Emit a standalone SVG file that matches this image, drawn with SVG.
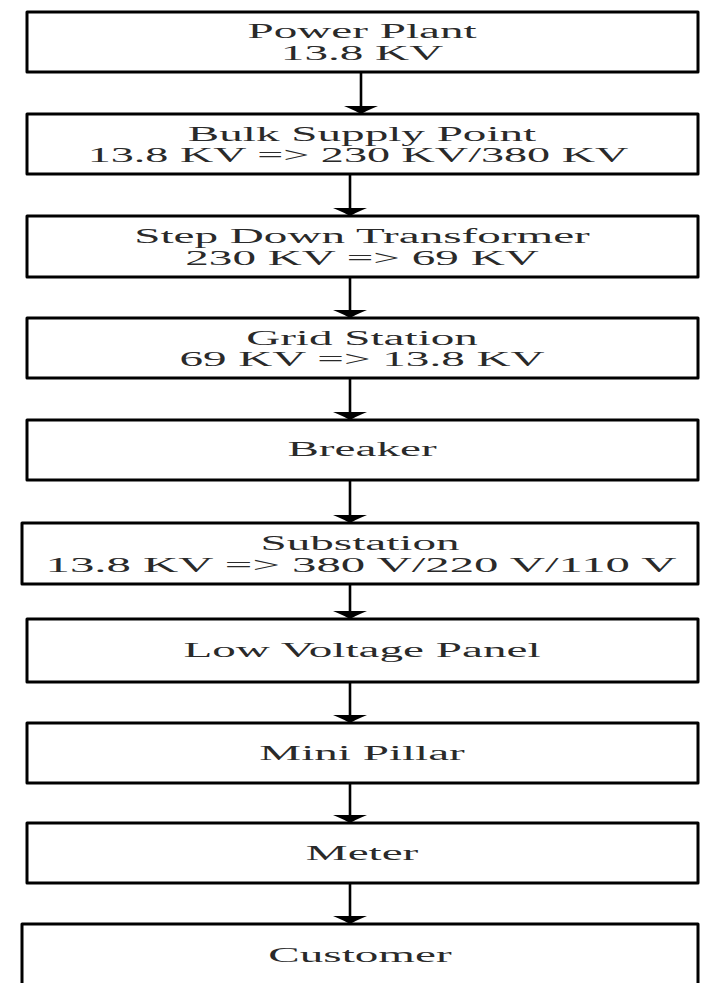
<svg xmlns="http://www.w3.org/2000/svg" width="702" height="983" viewBox="0 0 702 983">
<style>
.box{fill:#fff;stroke:#000;stroke-width:3;stroke-linejoin:round}
.t{font-family:"Liberation Serif","Times New Roman",serif;font-size:20.5px;fill:#2a2a2a;text-anchor:middle}
.c{stroke:#000;stroke-width:2.6;fill:none}
</style>
<defs>
<marker id="ah" markerUnits="userSpaceOnUse" markerWidth="12" markerHeight="40" viewBox="0 -20 12 40" refX="8" refY="0" orient="auto">
<path d="M0,-17 Q5,-5 8,0 Q5,5 0,17 Z" fill="#000"/>
</marker>
</defs>
<rect width="702" height="983" fill="#fff"/>
<g id="connectors">
<line class="c" x1="361" y1="72" x2="361" y2="114" marker-end="url(#ah)"/>
<line class="c" x1="350" y1="174" x2="350" y2="216" marker-end="url(#ah)"/>
<line class="c" x1="350" y1="277" x2="350" y2="318" marker-end="url(#ah)"/>
<line class="c" x1="350" y1="378" x2="350" y2="420" marker-end="url(#ah)"/>
<line class="c" x1="350" y1="480" x2="350" y2="523" marker-end="url(#ah)"/>
<line class="c" x1="350" y1="584" x2="350" y2="619" marker-end="url(#ah)"/>
<line class="c" x1="350" y1="682" x2="350" y2="723" marker-end="url(#ah)"/>
<line class="c" x1="350" y1="783" x2="350" y2="823" marker-end="url(#ah)"/>
<line class="c" x1="350" y1="883" x2="350" y2="924" marker-end="url(#ah)"/>
</g>
<g id="power-plant">
<rect class="box" x="27" y="12" width="671" height="60"/>
<text class="t" transform="matrix(2.3 0 0 1 362 38)">Power Plant</text>
<text class="t" transform="matrix(2.3 0 0 1 362 60)">13.8 KV</text>
</g>
<g id="bulk-supply-point">
<rect class="box" x="27" y="114" width="671" height="60"/>
<text class="t" transform="matrix(2.3 0 0 1 362 141)">Bulk Supply Point</text>
<text class="t" transform="matrix(2.25 0 0 1 358 162)">13.8 KV =&gt; 230 KV/380 KV</text>
</g>
<g id="step-down-transformer">
<rect class="box" x="27" y="216" width="671" height="61"/>
<text class="t" transform="matrix(2.3 0 0 1 362 243)">Step Down Transformer</text>
<text class="t" transform="matrix(2.3 0 0 1 362 265)">230 KV =&gt; 69 KV</text>
</g>
<g id="grid-station">
<rect class="box" x="27" y="318" width="671" height="60"/>
<text class="t" transform="matrix(2.3 0 0 1 362 345)">Grid Station</text>
<text class="t" transform="matrix(2.3 0 0 1 362 366)">69 KV =&gt; 13.8 KV</text>
</g>
<g id="breaker">
<rect class="box" x="27" y="420" width="671" height="60"/>
<text class="t" transform="matrix(2.3 0 0 1 362 456)">Breaker</text>
</g>
<g id="substation">
<rect class="box" x="22" y="523" width="676" height="61"/>
<text class="t" transform="matrix(2.3 0 0 1 360 550)">Substation</text>
<text class="t" transform="matrix(2.38 0 0 1 361 572)">13.8 KV =&gt; 380 V/220 V/110 V</text>
</g>
<g id="low-voltage-panel">
<rect class="box" x="27" y="619" width="671" height="63"/>
<text class="t" transform="matrix(2.3 0 0 1 362 657)">Low Voltage Panel</text>
</g>
<g id="mini-pillar">
<rect class="box" x="27" y="723" width="671" height="60"/>
<text class="t" transform="matrix(2.3 0 0 1 362 760)">Mini Pillar</text>
</g>
<g id="meter">
<rect class="box" x="27" y="823" width="671" height="60"/>
<text class="t" transform="matrix(2.3 0 0 1 362 860)">Meter</text>
</g>
<g id="customer">
<rect class="box" x="22" y="924" width="676" height="70"/>
<text class="t" transform="matrix(2.3 0 0 1 360 962)">Customer</text>
</g>
</svg>
